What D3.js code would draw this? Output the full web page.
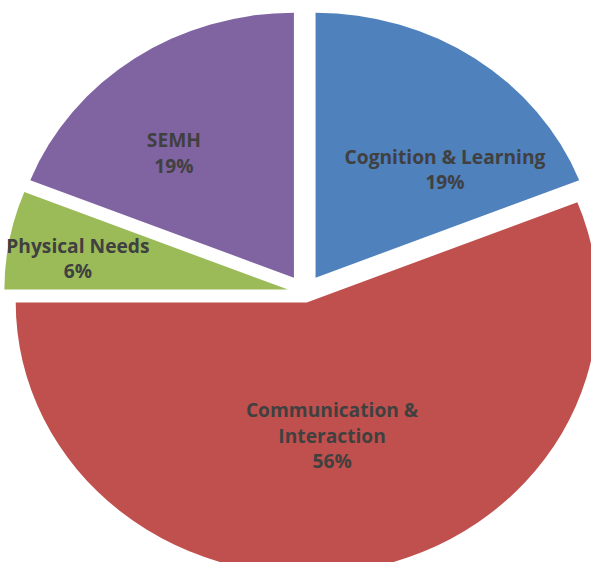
<!DOCTYPE html>
<html>
<head>
<meta charset="utf-8">
<script src="https://cdn.jsdelivr.net/npm/d3@7/dist/d3.min.js"></script>
<style>
body { margin: 0; background: #fff; }
.label { font-family: "Open Sans", Lato, sans-serif; font-weight: bold; font-size: 19.2px; fill: #404040; }
</style>
</head>
<body>
<div class="content"></div>
<script>
// data
var categories = ["Cognition & Learning", "Communication & Interaction", "Physical Needs", "SEMH"];
var labelLines = [["Cognition & Learning"], ["Communication &", "Interaction"], ["Physical Needs"], ["SEMH"]];
var values = [19, 56, 6, 19];
var percentLabels = ["19%", "56%", "6%", "19%"];

// style
var colors = ["#4f81bd", "#c0504d", "#9bbb59", "#8064a2"];
var size = {width: 591, height: 562};
var center = {x: 304.75, y: 292.6};
var stretchX = 1.07;
var explode = [18, 10, 16, 18];
var radius = [265, 272, 265, 265];
var labelPolar = [[162.5, 48.1], [135, 169.9], [198.8, 279.1], [168, 318.1]];
var lineGap = 25.5;

var chart = d3.select('.content')
    .append('svg')
    .attr('width', size.width)
    .attr('height', size.height);

var pie = d3.pie().sort(null).value(function(d) { return d; });
var arcs = pie(values);

function offsetOf(d, i) {
    var mid = (d.startAngle + d.endAngle) / 2;
    return [explode[i] * Math.sin(mid), -explode[i] * Math.cos(mid)];
}

var pieGroup = chart.append('g')
    .attr('transform', 'translate(' + center.x + ',' + center.y + ') scale(' + stretchX + ',1)');

pieGroup.selectAll('path')
    .data(arcs)
    .enter().append('path')
    .attr('transform', function(d, i) {
        var o = offsetOf(d, i);
        return 'translate(' + o[0] + ',' + o[1] + ')';
    })
    .attr('d', function(d, i) {
        return d3.arc().innerRadius(0).outerRadius(radius[i])(d);
    })
    .attr('fill', function(d, i) { return colors[i]; });

// labels, kept out of the stretched group so text is not distorted
var labels = chart.selectAll('text.label')
    .data(arcs)
    .enter().append('text')
    .attr('class', 'label')
    .attr('text-anchor', 'middle')
    .each(function(d, i) {
        var o = offsetOf(d, i);
        var a = labelPolar[i][1] * Math.PI / 180;
        var x = center.x + stretchX * (o[0] + labelPolar[i][0] * Math.sin(a));
        var y = center.y + o[1] - labelPolar[i][0] * Math.cos(a);
        var lines = labelLines[i].concat([percentLabels[i]]);
        var t = d3.select(this);
        lines.forEach(function(s, k) {
            t.append('tspan')
                .attr('x', x)
                .attr('y', y + (k - (lines.length - 1) / 2) * lineGap)
                .attr('dominant-baseline', 'central')
                .text(s);
        });
    });
</script>
</body>
</html>
